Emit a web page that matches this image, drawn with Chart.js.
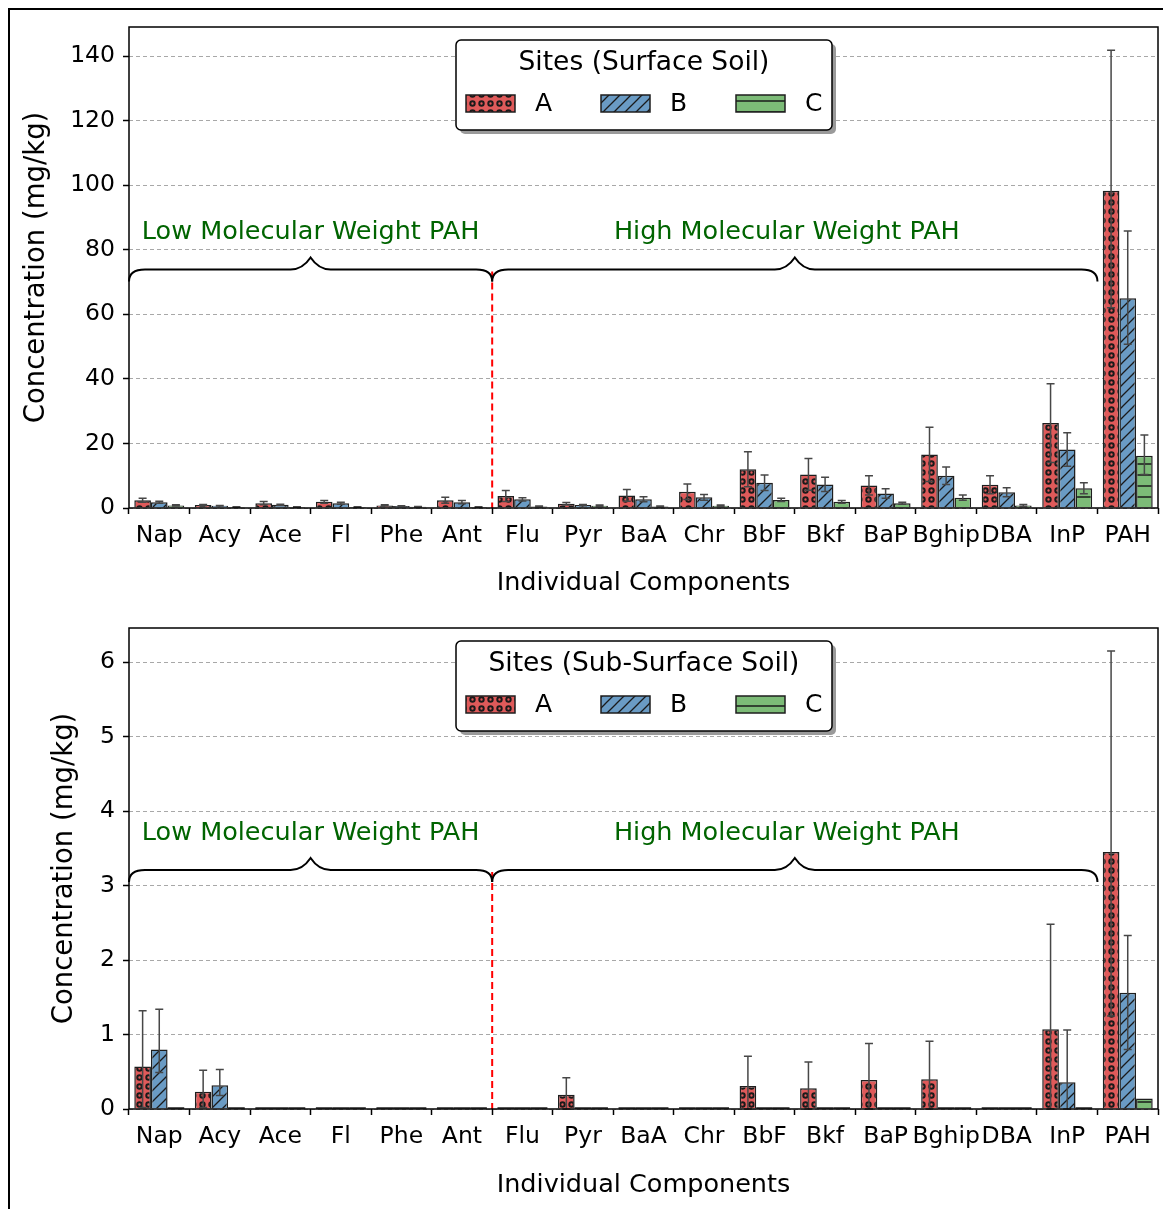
<!DOCTYPE html>
<html>
<head>
<meta charset="utf-8">
<script src="https://cdn.jsdelivr.net/npm/chart.js@4.4.0/dist/chart.umd.min.js"></script>
<style>
  body { margin: 0; background: #fff; width: 1163px; height: 1209px; overflow: hidden; position: relative; }
  #frame { position: absolute; left: 8px; top: 8px; width: 1200px; height: 1250px; border: 2.5px solid #000; }
  .box { position: absolute; left: 0; width: 1163px; }
  #top { top: 0; height: 605px; }
  #bottom { top: 605px; height: 604px; }
</style>
</head>
<body>
<div id="frame"></div>
<div class="box" id="top"><canvas id="surfChart"></canvas></div>
<div class="box" id="bottom"><canvas id="subChart"></canvas></div>

<script>
  // categories
  const components = ['Nap', 'Acy', 'Ace', 'Fl', 'Phe', 'Ant', 'Flu', 'Pyr', 'BaA', 'Chr',
                      'BbF', 'Bkf', 'BaP', 'Bghip', 'DBA', 'InP', 'PAH'];
  const siteNames = ['A', 'B', 'C'];

  // surface soil (mg/kg)
  const surfA = [2.4, 0.9, 1.5, 1.9, 0.8, 2.4, 3.7, 1.3, 3.9, 5.0, 12.0, 10.4, 7.0, 16.6, 7.2, 26.3, 98.3];
  const surfB = [1.8, 0.7, 1.0, 1.5, 0.6, 1.8, 2.7, 0.9, 2.7, 3.3, 7.8, 7.3, 4.5, 10.0, 4.9, 18.1, 65.0];
  const surfC = [0.8, 0.3, 0.3, 0.3, 0.4, 0.3, 0.5, 0.7, 0.5, 0.7, 2.5, 1.9, 1.5, 3.2, 0.8, 6.1, 16.2];
  const surfAErrUp = [0.6, 0.2, 0.5, 0.4, 0.2, 0.9, 1.7, 0.4, 1.8, 2.4, 5.4, 4.9, 3.0, 8.4, 2.8, 12.2, 43.5];
  const surfAErrDown = [0.6, 0.2, 0.5, 0.4, 0.2, 0.9, 1.7, 0.4, 1.8, 2.4, 5.4, 4.9, 3.0, 8.4, 2.8, 12.2, 36.3];
  const surfBErrUp = [0.3, 0.1, 0.2, 0.3, 0.1, 0.5, 0.5, 0.2, 0.8, 0.9, 2.4, 2.2, 1.5, 2.7, 1.4, 5.2, 20.8];
  const surfBErrDown = [0.3, 0.1, 0.2, 0.3, 0.1, 0.5, 0.5, 0.2, 0.8, 0.9, 2.4, 2.2, 1.5, 2.7, 1.4, 5.2, 14.3];
  const surfCErrUp = [0.2, 0.1, 0.1, 0.1, 0.1, 0.1, 0.1, 0.2, 0.1, 0.2, 0.5, 0.4, 0.3, 0.8, 0.3, 1.7, 6.4];
  const surfCErrDown = [0.2, 0.1, 0.1, 0.1, 0.1, 0.1, 0.1, 0.2, 0.1, 0.2, 0.5, 0.4, 0.3, 0.8, 0.3, 1.7, 5.8];

  // sub-surface soil (mg/kg)
  const subA = [0.57, 0.23, 0, 0, 0, 0, 0, 0.19, 0, 0, 0.31, 0.28, 0.39, 0.40, 0, 1.07, 3.45];
  const subB = [0.80, 0.32, 0, 0, 0, 0, 0, 0, 0, 0, 0, 0, 0, 0, 0, 0.36, 1.56];
  const subC = [0, 0, 0, 0, 0, 0, 0, 0, 0, 0, 0, 0, 0, 0, 0, 0, 0.14];
  const subAErrUp = [0.75, 0.29, 0, 0, 0, 0, 0, 0.23, 0, 0, 0.40, 0.35, 0.49, 0.51, 0, 1.41, 2.70];
  const subAErrDown = [0.55, 0.21, 0, 0, 0, 0, 0, 0.19, 0, 0, 0.31, 0.28, 0.39, 0.40, 0, 1.07, 2.20];
  const subBErrUp = [0.54, 0.21, 0, 0, 0, 0, 0, 0, 0, 0, 0, 0, 0, 0, 0, 0.70, 0.77];
  const subBErrDown = [0.31, 0.14, 0, 0, 0, 0, 0, 0, 0, 0, 0, 0, 0, 0, 0, 0.36, 0.76];
  const subCErrUp = [0, 0, 0, 0, 0, 0, 0, 0, 0, 0, 0, 0, 0, 0, 0, 0, 0];
  const subCErrDown = [0, 0, 0, 0, 0, 0, 0, 0, 0, 0, 0, 0, 0, 0, 0, 0, 0];

  // y ticks
  const surfTicks = [0, 20, 40, 60, 80, 100, 120, 140];
  const subTicks = [0, 1, 2, 3, 4, 5, 6];

  Chart.defaults.font.family = "'DejaVu Sans', sans-serif";
  Chart.defaults.color = '#000';

  const FILL = ['#df5a5a', '#6a9bc4', '#7cbb77'];
  const EDGE = '#1e1e1e';

  // hatch patterns: dots, diagonal lines, horizontal lines
  function makePattern(kind, color) {
    const c = document.createElement('canvas');
    const s = kind === 'dots' ? 9 : 11;
    c.width = s; c.height = s;
    const g = c.getContext('2d');
    g.fillStyle = color;
    g.fillRect(0, 0, s, s);
    g.strokeStyle = '#1a1a1a';
    if (kind === 'dots') {
      g.lineWidth = 2;
      g.beginPath();
      g.arc(s / 2, s / 2, 2.2, 0, Math.PI * 2);
      g.stroke();
    } else if (kind === 'diag') {
      g.lineWidth = 1.3;
      g.beginPath();
      g.moveTo(-1, s + 1); g.lineTo(s + 1, -1);
      g.moveTo(-2, 2); g.lineTo(2, -2);
      g.moveTo(s - 2, s + 2); g.lineTo(s + 2, s - 2);
      g.stroke();
    } else {
      g.lineWidth = 1.5;
      g.beginPath();
      g.moveTo(0, 2); g.lineTo(s, 2);
      g.stroke();
    }
    return g.createPattern(c, 'repeat');
  }
  const patterns = [makePattern('dots', FILL[0]), makePattern('diag', FILL[1]), makePattern('hline', FILL[2])];

  // error bars, brace annotations, legend and frame
  const extras = {
    id: 'extras',
    afterDatasetsDraw(chart) {
      const ctx = chart.ctx;
      const y = chart.scales.y;
      const x = chart.scales.x;
      const o = chart.options.plugins.extras;

      // zero-height bars still show their edge on the baseline
      ctx.save();
      ctx.strokeStyle = EDGE;
      ctx.lineWidth = 1.5;
      chart.data.datasets.forEach((ds, i) => {
        chart.getDatasetMeta(i).data.forEach((bar, j) => {
          if (ds.data[j] !== 0) return;
          const y0 = y.getPixelForValue(0) - 1;
          ctx.beginPath();
          ctx.moveTo(bar.x - bar.width / 2, y0);
          ctx.lineTo(bar.x + bar.width / 2, y0);
          ctx.stroke();
        });
      });
      ctx.restore();

      // error bars
      ctx.save();
      ctx.strokeStyle = '#474747';
      ctx.lineWidth = 1.5;
      chart.data.datasets.forEach((ds, i) => {
        const meta = chart.getDatasetMeta(i);
        meta.data.forEach((bar, j) => {
          const up = ds.errUp[j], down = ds.errDown[j];
          if (!up && !down) return;
          const v = ds.data[j];
          const yHi = y.getPixelForValue(v + up);
          const yLo = y.getPixelForValue(Math.max(0, v - down));
          ctx.beginPath();
          ctx.moveTo(bar.x, yHi); ctx.lineTo(bar.x, yLo);
          ctx.moveTo(bar.x - 4, yHi); ctx.lineTo(bar.x + 4, yHi);
          ctx.moveTo(bar.x - 4, yLo); ctx.lineTo(bar.x + 4, yLo);
          ctx.stroke();
        });
      });
      ctx.restore();

      // red divider
      const xDiv = x.getPixelForValue(5.5);
      const yBrace = y.getPixelForValue(o.braceY);
      ctx.save();
      ctx.strokeStyle = '#ff0000';
      ctx.lineWidth = 2;
      ctx.setLineDash([7, 4]);
      ctx.beginPath();
      ctx.moveTo(xDiv, yBrace + 2);
      ctx.lineTo(xDiv, y.getPixelForValue(0));
      ctx.stroke();
      ctx.restore();

      // curly braces
      const drawBrace = (x1, x2) => {
        const xm = (x1 + x2) / 2;
        ctx.beginPath();
        ctx.moveTo(x1, yBrace + 12);
        ctx.quadraticCurveTo(x1, yBrace, x1 + 16, yBrace);
        ctx.lineTo(xm - 20, yBrace);
        ctx.quadraticCurveTo(xm - 8, yBrace, xm, yBrace - 12);
        ctx.quadraticCurveTo(xm + 8, yBrace, xm + 20, yBrace);
        ctx.lineTo(x2 - 16, yBrace);
        ctx.quadraticCurveTo(x2, yBrace, x2, yBrace + 12);
        ctx.stroke();
        return xm;
      };
      ctx.save();
      ctx.strokeStyle = '#000';
      ctx.lineWidth = 2;
      const m1 = drawBrace(x.getPixelForValue(-0.5), xDiv);
      const m2 = drawBrace(xDiv, x.getPixelForValue(15.5));
      ctx.fillStyle = '#006400';
      ctx.font = "25.5px 'DejaVu Sans'";
      ctx.textAlign = 'center';
      ctx.textBaseline = 'middle';
      const yText = y.getPixelForValue(o.textY);
      ctx.fillText('Low Molecular Weight PAH', m1, yText);
      ctx.fillText('High Molecular Weight PAH', m2 - 8, yText);
      ctx.restore();
    },
    afterDraw(chart) {
      const ctx = chart.ctx;
      const a = chart.chartArea;
      const o = chart.options.plugins.extras;

      // axes frame
      ctx.save();
      ctx.strokeStyle = '#000';
      ctx.lineWidth = 1.5;
      ctx.strokeRect(a.left, a.top, a.right - a.left, a.bottom - a.top);

      // legend
      const w = 376, h = 90;
      const bx = Math.round((a.left + a.right) / 2 - w / 2);
      const by = a.top + 13;
      const rr = (px, py) => {
        ctx.beginPath();
        ctx.roundRect(px, py, w, h, 5);
      };
      ctx.fillStyle = '#9a9a9a';
      rr(bx + 4, by + 4); ctx.fill();
      ctx.fillStyle = '#fff';
      rr(bx, by); ctx.fill();
      ctx.strokeStyle = '#000';
      ctx.lineWidth = 1.5;
      ctx.stroke();

      ctx.fillStyle = '#000';
      ctx.font = "26.5px 'DejaVu Sans'";
      ctx.textAlign = 'center';
      ctx.textBaseline = 'middle';
      ctx.fillText(o.legendTitle, bx + w / 2, by + 23);

      ctx.font = "25px 'DejaVu Sans'";
      ctx.textAlign = 'left';
      const offs = [10, 145, 280];
      chart.data.datasets.forEach((ds, i) => {
        const sx = bx + offs[i], sy = by + 55;
        ctx.fillStyle = ds.backgroundColor;
        ctx.fillRect(sx, sy, 49, 17);
        ctx.strokeStyle = EDGE;
        ctx.lineWidth = 1.5;
        ctx.strokeRect(sx, sy, 49, 17);
        ctx.fillStyle = '#000';
        ctx.fillText(ds.label, sx + 69, sy + 9);
      });
      ctx.restore();
    }
  };

  function buildChart(id, series, errUp, errDown, ticks, yMax, opts) {
    return new Chart(id, {
      type: 'bar',
      data: {
        labels: components,
        datasets: series.map((vals, i) => ({
          label: siteNames[i],
          data: vals,
          errUp: errUp[i],
          errDown: errDown[i],
          backgroundColor: patterns[i],
          borderColor: EDGE,
          borderWidth: 1.5,
          categoryPercentage: 0.825,
          barPercentage: 1.0
        }))
      },
      options: {
        responsive: true,
        maintainAspectRatio: false,
        animation: false,
        layout: {
          padding: {left: opts.padLeft, right: 5, top: opts.padTop, bottom: opts.padBottom}
        },
        scales: {
          x: {
            grid: {drawOnChartArea: false, drawTicks: true, tickLength: 6, tickColor: '#000', tickWidth: 1.5},
            border: {display: false},
            ticks: {font: {size: 23.5}, padding: 8, maxRotation: 0, autoSkip: false},
            title: {display: true, text: 'Individual Components', font: {size: 25.5}},
            afterFit(scale) { scale.height = opts.xHeight; }
          },
          y: {
            min: 0,
            max: yMax,
            afterBuildTicks(scale) { scale.ticks = ticks.map(v => ({value: v})); },
            grid: {color: '#a8a8a8', lineWidth: 1, tickLength: 6, tickColor: '#000', tickWidth: 1.5},
            border: {display: false, dash: [4, 3]},
            ticks: {font: {size: 23.5}, padding: 8},
            title: {display: true, text: 'Concentration (mg/kg)', font: {size: 27.5}},
            afterFit(scale) { scale.width = opts.yWidth; }
          }
        },
        plugins: {
          legend: {display: false},
          tooltip: {enabled: false},
          extras: {
            legendTitle: opts.legendTitle,
            braceY: opts.braceY,
            textY: opts.textY
          }
        }
      },
      plugins: [extras]
    });
  }

  buildChart('surfChart',
    [surfA, surfB, surfC],
    [surfAErrUp, surfBErrUp, surfCErrUp],
    [surfAErrDown, surfBErrDown, surfCErrDown],
    surfTicks, 149,
    {padLeft: 16, yWidth: 113, padTop: 27, padBottom: 2, xHeight: 95,
     legendTitle: 'Sites (Surface Soil)', braceY: 73.9, textY: 85.3});

  buildChart('subChart',
    [subA, subB, subC],
    [subAErrUp, subBErrUp, subCErrUp],
    [subAErrDown, subBErrDown, subCErrDown],
    subTicks, 6.46,
    {padLeft: 44, yWidth: 85, padTop: 23, padBottom: 4, xHeight: 96,
     legendTitle: 'Sites (Sub-Surface Soil)', braceY: 3.21, textY: 3.70});
</script>
</body>
</html>
